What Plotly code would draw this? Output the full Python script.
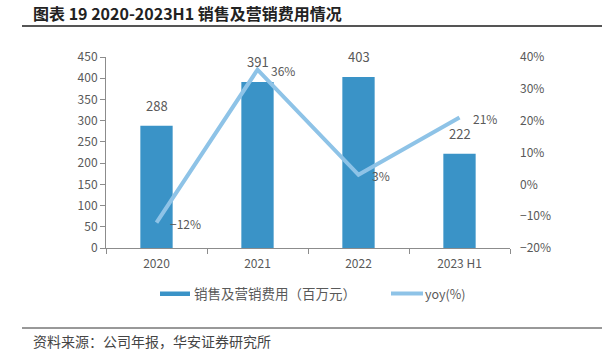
import plotly.graph_objects as go

categories = ["2020", "2021", "2022", "2023 H1"]
expense = [288, 391, 403, 222]
yoy = [-12, 36, 3, 21]
yoy_labels = ["−12%", "36%", "3%", "21%"]

BAR = "#3A93C7"
LINE = "#8EC3E7"
GREY = "#595959"
FONT = "Noto Sans CJK SC"

fig = go.Figure()
fig.add_trace(go.Bar(
    x=categories, y=expense, marker=dict(color=BAR, line=dict(width=0)),
    width=0.32, name="销售及营销费用（百万元）", showlegend=False,
    cliponaxis=False,
))
fig.add_trace(go.Scatter(
    x=categories, y=yoy, yaxis="y2", mode="lines",
    line=dict(color=LINE, width=4),
    name="yoy(%)", showlegend=False, cliponaxis=False,
))

annotations = []
for i, v in enumerate(expense):
    annotations.append(dict(x=i, y=v, xref="x", yref="y", text=str(v), showarrow=False,
                            yanchor="bottom", yshift=9,
                            font=dict(size=13, color=GREY, family=FONT)))
for i, (v, t) in enumerate(zip(yoy, yoy_labels)):
    annotations.append(dict(x=i, y=v, xref="x", yref="y2", text=t, showarrow=False,
                            xanchor="left", yanchor="middle", xshift=11, yshift=-1,
                            font=dict(size=12, color=GREY, family=FONT)))

W, H = 606, 354
L, R, T, B = 106, 96, 57, 106
pw, ph = W - L - R, H - T - B
def px(x): return (x - L) / pw
def py(y): return (H - B - y) / ph

def note(x, y, text, size, color, bold=False):
    return dict(x=px(x), y=py(y), xref="paper", yref="paper",
                text=f"<b>{text}</b>" if bold else text, showarrow=False,
                xanchor="left", yanchor="middle",
                font=dict(size=size, color=color, family=FONT))

annotations += [
    note(31, 13, "图表 19 2020-2023H1 销售及营销费用情况", 16, "#222", bold=True),
    note(31, 341, "资料来源：公司年报，华安证券研究所", 14, "#444"),
    note(192, 293, "销售及营销费用（百万元）", 13.5, GREY),
    note(423, 293, "yoy(%)", 12.5, GREY),
]

shapes = [
    dict(type="line", xref="paper", yref="paper", x0=px(22), x1=px(602), y0=py(26), y1=py(26),
         line=dict(color="#555", width=2)),
    dict(type="line", xref="paper", yref="paper", x0=px(22), x1=px(602), y0=py(328), y1=py(328),
         line=dict(color="#333", width=1)),
    dict(type="rect", xref="paper", yref="paper", x0=px(160), x1=px(190), y0=py(291.5), y1=py(296),
         fillcolor=BAR, line=dict(width=0)),
    dict(type="line", xref="paper", yref="paper", x0=px(391), x1=px(423), y0=py(293.5), y1=py(293.5),
         line=dict(color=LINE, width=4)),
]

fig.update_layout(
    width=W, height=H, margin=dict(l=L, r=R, t=T, b=B),
    paper_bgcolor="white", plot_bgcolor="white",
    font=dict(family=FONT, size=12, color=GREY),
    xaxis=dict(type="category", range=[-0.5, 3.5], showline=True, linecolor="#8c8c8c", linewidth=1,
               ticks="outside", tickson="boundaries", ticklen=5, tickcolor="#8c8c8c",
               ticklabelstandoff=5,
               tickfont=dict(size=12, color=GREY), showgrid=False, fixedrange=True),
    yaxis=dict(range=[0, 450], dtick=50, showline=True, linecolor="#8c8c8c", linewidth=1,
               ticks="outside", ticklen=5, tickcolor="#8c8c8c", showgrid=False, zeroline=False,
               tickfont=dict(size=12, color=GREY)),
    yaxis2=dict(range=[-20, 40], dtick=10, overlaying="y", side="right", ticksuffix="%",
                showline=False, showgrid=False, zeroline=False, ticks="",
                ticklabelstandoff=9,
                tickfont=dict(size=12, color=GREY)),
    annotations=annotations, shapes=shapes, showlegend=False,
)

fig.write_html("out.html")
